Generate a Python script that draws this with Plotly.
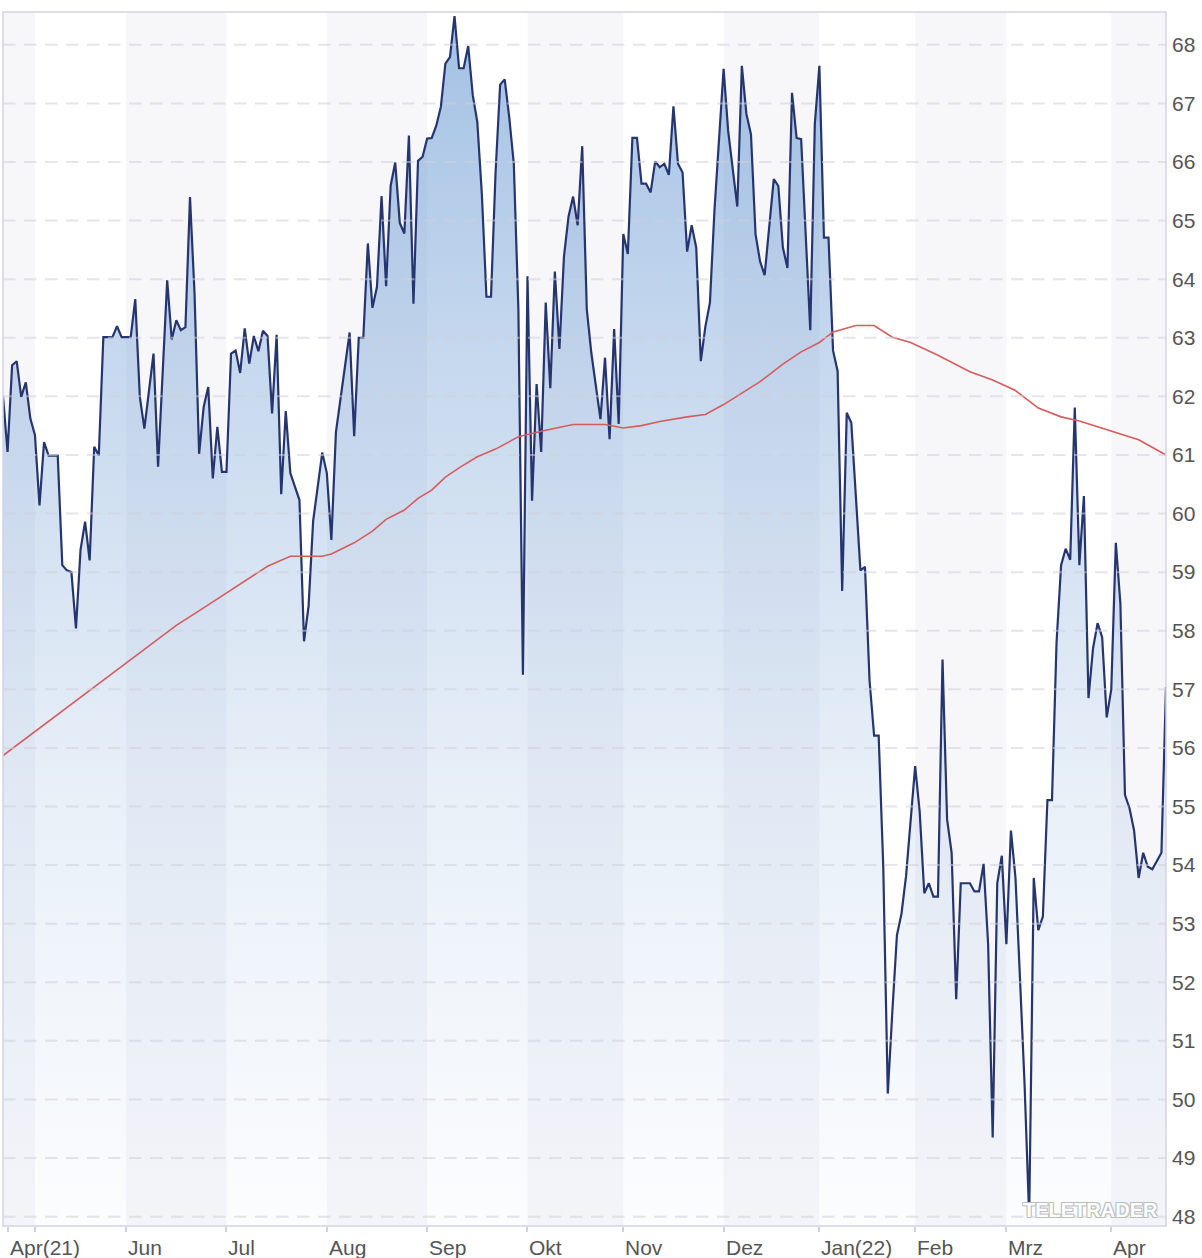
import pandas as pd
import plotly.graph_objects as go

# ---------------- data ----------------
FIRST_DAY = "2021-04-22"
LAST_DAY = "2022-04-21"
HOLIDAYS = ["2021-05-24", "2021-12-24", "2021-12-31", "2022-04-15", "2022-04-18"]

# trading session number (0 = first day of the chart) and closing price
price_session = [
    0, 1, 2, 3, 4, 5, 6, 7, 8, 9,
    10, 12, 13, 14, 15, 16, 17, 18, 19, 20,
    21, 22, 24, 25, 26, 28, 29, 30, 31, 32,
    33, 34, 35, 36, 37, 38, 39, 40, 41, 42,
    43, 44, 45, 46, 47, 48, 49, 50, 51, 52,
    53, 54, 55, 56, 57, 58, 59, 60, 61, 62,
    63, 64, 65, 66, 67, 68, 70, 71, 72, 73,
    76, 77, 78, 79, 80, 81, 82, 83, 84, 85,
    86, 87, 88, 89, 90, 91, 92, 93, 94, 95,
    96, 97, 98, 99, 100, 101, 102, 103, 104, 105,
    106, 107, 108, 109, 110, 111, 112, 113, 114, 115,
    116, 117, 118, 119, 120, 121, 122, 123, 124, 125,
    126, 127, 128, 129, 131, 132, 133, 134, 135, 136,
    137, 138, 139, 140, 141, 142, 143, 144, 145, 146,
    147, 148, 149, 150, 151, 152, 153, 154, 155, 156,
    158, 159, 161, 162, 163, 164, 165, 166, 167, 169,
    170, 171, 172, 173, 174, 175, 176, 177, 178, 179,
    180, 181, 182, 183, 184, 185, 186, 188, 189, 190,
    191, 192, 193, 194, 195, 196, 197, 198, 200, 201,
    202, 203, 204, 205, 206, 207, 208, 209, 210, 212,
    213, 214, 215, 216, 217, 218, 219, 220, 221, 222,
    223, 224, 225, 226, 227, 228, 229, 230, 231, 232,
    233, 234, 235, 236, 237, 238, 239, 240, 241, 242,
    243, 244, 245, 246, 247, 248, 249, 250, 251, 252,
    254, 255,
]
price_value = [
    62.00, 61.05, 62.53, 62.60, 61.99, 62.24, 61.62, 61.34, 60.14, 61.22,
    60.99, 60.99, 59.12, 59.03, 59.00, 58.04, 59.38, 59.86, 59.20, 61.14,
    60.99, 63.01, 63.01, 63.20, 63.01, 63.01, 63.66, 61.99, 61.45, 62.10,
    62.73, 60.80, 62.33, 63.98, 62.97, 63.30, 63.13, 63.18, 65.40, 63.75,
    61.02, 61.82, 62.16, 60.60, 61.48, 60.71, 60.71, 62.73, 62.78, 62.40,
    63.16, 62.56, 63.03, 62.77, 63.12, 63.03, 61.71, 63.05, 60.33, 61.75,
    60.69, 60.44, 60.23, 57.82, 58.42, 59.87, 61.04, 60.69, 59.55, 61.39,
    63.09, 61.32, 63.00, 63.00, 64.61, 63.51, 63.87, 65.42, 63.88, 65.60,
    65.99, 64.96, 64.78, 66.45, 63.58, 66.02, 66.09, 66.40, 66.41, 66.62,
    66.94, 67.68, 67.79, 68.49, 67.60, 67.60, 67.98, 67.14, 66.68, 65.44,
    63.70, 63.70, 65.82, 67.32, 67.41, 66.76, 65.97, 63.49, 57.25, 64.05,
    60.22, 62.21, 61.05, 63.60, 62.14, 64.13, 62.81, 64.39, 65.07, 65.41,
    64.92, 66.27, 63.49, 62.74, 61.61, 62.66, 61.27, 63.15, 61.53, 64.77,
    64.43, 66.41, 66.41, 65.63, 65.63, 65.48, 66.01, 65.91, 65.97, 65.78,
    66.95, 65.97, 65.82, 64.47, 64.92, 64.54, 62.60, 63.19, 63.60, 65.18,
    67.59, 66.53, 65.24, 67.64, 66.82, 66.47, 64.77, 64.30, 64.07, 65.71,
    65.59, 64.54, 64.19, 67.18, 66.41, 66.39, 64.77, 63.13, 66.65, 67.64,
    64.71, 64.71, 62.78, 62.43, 58.68, 61.72, 61.55, 59.03, 59.09, 57.15,
    56.21, 56.21, 53.99, 50.10, 51.50, 52.80, 53.17, 53.81, 55.69, 54.90,
    53.52, 53.69, 53.46, 53.46, 57.51, 54.78, 54.21, 51.71, 53.69, 53.69,
    53.55, 53.55, 54.02, 52.65, 49.35, 53.69, 54.16, 52.65, 54.59, 53.78,
    52.04, 50.24, 48.00, 53.78, 52.89, 53.12, 55.11, 55.11, 57.80, 59.12,
    59.40, 59.21, 61.81, 59.12, 60.30, 56.85, 57.70, 58.13, 57.89, 56.52,
    57.00, 59.50, 58.46, 55.20, 54.97, 54.59, 53.78, 54.21, 53.97, 53.93,
    54.21, 57.04,
]

# 200-day moving average
ma_session = [0, 10, 21, 31, 38, 45, 52, 58, 63, 70,
              72, 77, 81, 84, 88, 91, 94, 97, 100, 104,
              108, 113, 119, 125, 132, 136, 140, 144, 150, 154,
              158, 162, 166, 171, 175, 179, 182, 187, 191, 195,
              199, 205, 212, 217, 222, 227, 232, 236, 242, 249,
              255]
ma_value = [55.87, 56.45, 57.10, 57.68, 58.09, 58.44, 58.80, 59.10, 59.27, 59.27,
            59.31, 59.50, 59.70, 59.90, 60.06, 60.26, 60.40, 60.62, 60.78, 60.97,
            61.10, 61.31, 61.42, 61.52, 61.52, 61.46, 61.50, 61.57, 61.65, 61.69,
            61.86, 62.06, 62.25, 62.55, 62.76, 62.92, 63.10, 63.21, 63.21, 63.01,
            62.92, 62.70, 62.42, 62.28, 62.10, 61.80, 61.65, 61.58, 61.43, 61.26,
            61.00]

MONTH_LABELS = ["Apr(21)", "", "Jun", "Jul", "Aug", "Sep", "Okt", "Nov", "Dez",
                "Jan(22)", "Feb", "Mrz", "Apr"]
Y_TICKS = list(range(48, 69))
Y_RANGE = [47.84, 68.56]

# ---------------- calendar ----------------
sessions = pd.bdate_range(FIRST_DAY, LAST_DAY, freq="C", holidays=HOLIDAYS)
price_x = [sessions[i] for i in price_session]
ma_x = [sessions[i] for i in ma_session]
s = sessions.to_series()
month_starts = list(s.groupby(sessions.to_period("M")).first())
tick_x = [sessions[1]] + month_starts[1:]

# ---------------- figure ----------------
fig = go.Figure()

fig.add_trace(go.Scatter(
    x=price_x, y=price_value, mode="lines",
    line=dict(color="#263570", width=2.2),
    fill="tozeroy",
    fillgradient=dict(type="vertical", start=Y_RANGE[0], stop=Y_RANGE[1],
                      colorscale=[[0.0, "rgba(70,130,200,0.02)"],
                                  [0.35, "rgba(70,130,200,0.12)"],
                                  [0.7, "rgba(70,130,200,0.30)"],
                                  [1.0, "rgba(70,130,200,0.50)"]]),
    hoverinfo="skip", showlegend=False,
))
fig.add_trace(go.Scatter(
    x=ma_x, y=ma_value, mode="lines",
    line=dict(color="#d65c5c", width=1.6),
    hoverinfo="skip", showlegend=False,
))

shapes = []
# alternating month bands
for k in range(0, len(month_starts), 2):
    x0 = sessions[0] if k == 0 else month_starts[k]
    x1 = month_starts[k + 1] if k + 1 < len(month_starts) else sessions[-1]
    shapes.append(dict(type="rect", xref="x", yref="paper", x0=x0, x1=x1, y0=0, y1=1,
                       fillcolor="#f7f7fa", line=dict(width=0), layer="below"))
# dashed grid lines
for v in Y_TICKS:
    shapes.append(dict(type="line", xref="paper", yref="y", x0=0, x1=1, y0=v, y1=v,
                       line=dict(color="rgba(208,208,216,0.55)", width=2, dash="12.5px,8.5px"),
                       layer="above"))
# frame
shapes.append(dict(type="rect", xref="paper", yref="paper", x0=0, x1=1, y0=0, y1=1,
                   line=dict(color="#d3d4e5", width=1.5), layer="above"))

annotations = []
for xv, lab in zip(tick_x, MONTH_LABELS):
    if lab:
        annotations.append(dict(x=xv, y=0, xref="x", yref="paper", text=lab,
                                showarrow=False, xanchor="left", yanchor="middle",
                                xshift=0, yshift=-21,
                                font=dict(family="Liberation Sans, Arial", size=21, color="#555555")))
annotations.append(dict(x=1, y=0, xref="paper", yref="paper", text="TELETRADER",
                        showarrow=False, xanchor="right", yanchor="bottom",
                        xshift=-6, yshift=3,
                        font=dict(family="Liberation Sans, Arial", size=20, color="#ffffff",
                                  weight="bold",
                                  shadow="-1px -1px 0 #bdbdbd, 1px -1px 0 #bdbdbd, -1px 1px 0 #bdbdbd, 1px 1px 0 #bdbdbd")))

fig.update_layout(
    width=1202, height=1258,
    margin=dict(l=3, r=36, t=12, b=32),
    paper_bgcolor="white", plot_bgcolor="white",
    shapes=shapes, annotations=annotations,
    xaxis=dict(type="date", range=[sessions[0], sessions[-1]],
               rangebreaks=[dict(bounds=["sat", "mon"]), dict(values=HOLIDAYS)],
               tickvals=tick_x, showticklabels=False,
               ticks="outside", ticklen=5, tickwidth=1.5, tickcolor="#cfd0e0",
               showgrid=False, zeroline=False, showline=False, fixedrange=True),
    yaxis=dict(side="right", range=Y_RANGE, tickvals=Y_TICKS,
               ticks="", ticklabelstandoff=5,
               tickfont=dict(family="Liberation Sans, Arial", size=21, color="#555555"),
               showgrid=False, zeroline=False, showline=False, fixedrange=True),
)

fig.write_html(
    "out.html",
    config={"displayModeBar": False},
    post_script="document.body.style.margin='0';document.documentElement.style.overflow='hidden';",
)
